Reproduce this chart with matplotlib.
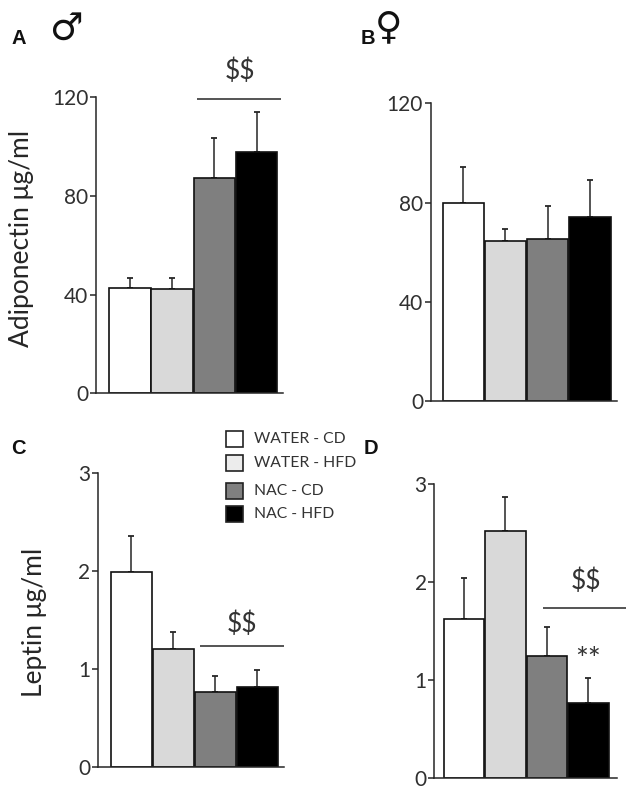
import matplotlib
matplotlib.use("Agg")
import matplotlib.pyplot as plt
from matplotlib.patches import Rectangle

W, H = 638, 793
FONT = ['Lato', 'DejaVu Sans']
INK = '#262626'

groups = ['WATER - CD', 'WATER - HFD', 'NAC - CD', 'NAC - HFD']
bar_colors = ['#ffffff', '#d9d9d9', '#7f7f7f', '#000000']
legend_colors = ['#ffffff', '#ececec', '#808080', '#000000']

adiponectin_male = [42.7, 42.2, 87.4, 98.0]
adiponectin_male_top = [46.6, 46.6, 103.6, 113.9]
adiponectin_female = [79.8, 64.5, 65.2, 74.3]
adiponectin_female_top = [94.5, 69.5, 78.6, 89.0]
leptin_male = [1.99, 1.204, 0.769, 0.82]
leptin_male_top = [2.364, 1.378, 0.929, 0.993]
leptin_female = [1.623, 2.523, 1.248, 0.76]
leptin_female_top = [2.042, 2.873, 1.544, 1.019]

adiponectin_ticks = [0, 40, 80, 120]
leptin_ticks = [0, 1, 2, 3]

fig = plt.figure(figsize=(W / 100, H / 100), dpi=100, facecolor='white')


def panel(box, first_bar, bar_w, values, tops, ticks):
    x0, x1, ytop, ybot = box
    ax = fig.add_axes([x0 / W, 1 - ybot / H, (x1 - x0) / W, (ybot - ytop) / H])
    left = -0.5 - (first_bar - x0) / bar_w
    ax.set_xlim(left, left + (x1 - x0) / bar_w)
    ax.set_ylim(ticks[0], ticks[-1])
    xs = range(len(values))
    errs = [t - v for t, v in zip(tops, values)]
    ax.errorbar(list(xs), values, yerr=[[0] * len(values), errs], fmt='none',
                ecolor=INK, elinewidth=1.1, capsize=2.4, capthick=1.3, zorder=2)
    ax.bar(list(xs), values, width=0.98, color=bar_colors, edgecolor='#111111',
           linewidth=1.2, zorder=3)
    for s in ('top', 'right'):
        ax.spines[s].set_visible(False)
    for s in ('left', 'bottom'):
        ax.spines[s].set_linewidth(1.1)
        ax.spines[s].set_color(INK)
        ax.spines[s].set_zorder(4)
    ax.set_xticks([])
    ax.set_yticks(ticks)
    ax.tick_params(axis='y', length=4, width=1.1, color=INK, pad=1.5,
                   labelsize=15, labelcolor='#303030')
    for t in ax.get_yticklabels():
        t.set_fontfamily(FONT)
    return ax


panel((96, 283, 97.3, 393.3), 108.8, 42.2, adiponectin_male, adiponectin_male_top, adiponectin_ticks)
panel((430.7, 617, 103.3, 401), 442.2, 42.2, adiponectin_female, adiponectin_female_top, adiponectin_ticks)
panel((97.7, 284, 473.3, 767.3), 110.2, 42.0, leptin_male, leptin_male_top, leptin_ticks)
panel((434.3, 617, 484.3, 777.7), 443.4, 41.4, leptin_female, leptin_female_top, leptin_ticks)

# Overlay in image pixels for the annotations
ov = fig.add_axes([0, 0, 1, 1], facecolor='none')
ov.set_xlim(0, W)
ov.set_ylim(H, 0)
ov.axis('off')

for s, x, y in [('A', 18.5, 38.5), ('B', 368, 38.5), ('C', 18.5, 448.5), ('D', 371, 448.5)]:
    ov.text(x, y, s, family='Liberation Sans', weight='bold', fontsize=14.5,
            ha='center', va='center', color='#111111')

ov.text(66, 30, '\u2642', family='DejaVu Sans', weight='bold', fontsize=27,
        ha='center', va='center', color='#111111')
ov.text(389, 28, '\u2640', family='DejaVu Sans', weight='bold', fontsize=27,
        ha='center', va='center', color='#111111')

ov.text(22, 238, 'Adiponectin \u03bcg/ml', family=FONT, fontsize=19, rotation=90,
        ha='center', va='center', color='#262626')
ov.text(35, 622, 'Leptin \u03bcg/ml', family=FONT, fontsize=19, rotation=90,
        ha='center', va='center', color='#262626')

for x, y, x0, x1, yl in [(240, 71, 197, 281, 98.7), (242, 624, 200, 284, 646.3),
                         (585.7, 581, 542.7, 626, 608.3)]:
    ov.text(x, y, '$$'.replace('$', r'\$'), family=FONT, fontsize=19, ha='center',
            va='center', color='#333333')
    ov.plot([x0, x1], [yl, yl], color=INK, lw=1.1, solid_capstyle='butt')

ov.text(588, 660, '**', family=FONT, fontsize=22, ha='center', va='center', color='#333333')

for label, color, y in zip(groups, legend_colors, [439, 463, 491, 514]):
    ov.add_patch(Rectangle((226, y - 8), 17, 16, facecolor=color, edgecolor='#222222', lw=1.2))
    ov.text(254, y, label, family=FONT, fontsize=11.3, ha='left', va='center', color='#333333')

fig.savefig('out.png', dpi=100)
